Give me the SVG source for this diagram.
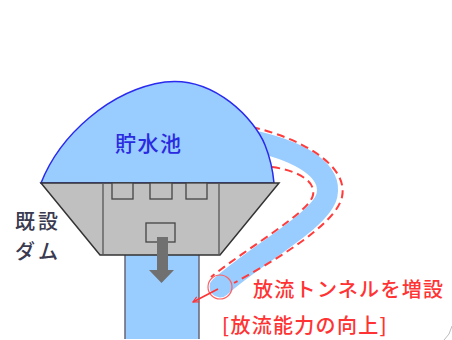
<svg xmlns="http://www.w3.org/2000/svg" width="452" height="340" viewBox="0 0 452 340">
  <defs>
    <style>
      .water { fill: #99ccff; }
      .dam { fill: #c0c0c0; stroke: #333; stroke-width: 1.5; stroke-linejoin: miter; }
      .part { fill: #c0c0c0; stroke: #444; stroke-width: 1.3; }
      .dash { fill: none; stroke: #ff3b3b; stroke-width: 2; stroke-dasharray: 8 5; }
      .jp { font-family: "Noto Sans CJK JP", "Noto Sans", sans-serif; font-weight: 500; }
      .red { fill: #ff3333; }
    </style>
    <marker id="redHead" viewBox="0 0 10 10" refX="9" refY="5" markerWidth="7" markerHeight="7" orient="auto" markerUnits="userSpaceOnUse">
      <path d="M1 1 L9 5 L1 9" fill="none" stroke="#ff3333" stroke-width="1.6"/>
    </marker>
  </defs>

  <rect width="452" height="340" fill="#ffffff"/>

  <!-- downstream channel -->
  <g id="channel">
    <rect class="water" x="125" y="255" width="74" height="84"/>
    <line x1="125" y1="255" x2="125" y2="339" stroke="#667" stroke-width="1.5"/>
    <line x1="199" y1="255" x2="199" y2="339" stroke="#667" stroke-width="1.5"/>
  </g>

  <!-- new discharge tunnel -->
  <g id="tunnel">
    <path d="M258 142 C300 152 332 170 327 195 C322 220 255 255 220 287" fill="none" stroke="#99ccff" stroke-width="21" stroke-linecap="round"/>
    <path class="dash" d="M252 127 C300 138 349 165 342 197 C336 225 272 262 234 283"/>
    <path class="dash" d="M272 167 C295 170 316 180 313 195 C310 212 250 246 211 277"/>
    <circle cx="220" cy="287" r="12" fill="none" stroke="#ff6060" stroke-width="1.2"/>
  </g>

  <!-- reservoir -->
  <g id="reservoir">
    <path d="M41 183 C60 135 110 90 165 82 C215 76 255 120 265 145 C271 160 273 172 274 183 Z" fill="#99ccff" stroke="#2a2aee" stroke-width="1.5"/>
    <text class="jp" x="115" y="150.5" font-size="21" letter-spacing="1.5" fill="#2a2ae0">貯水池</text>
  </g>

  <!-- existing dam body -->
  <g id="dam">
    <path class="dam" d="M41 183 L279 183 L220 255 L100 255 Z"/>
    <line x1="103" y1="183" x2="103" y2="255" stroke="#555" stroke-width="1.3"/>
    <line x1="219" y1="183" x2="219" y2="255" stroke="#555" stroke-width="1.3"/>
    <rect class="part" x="112" y="183" width="21" height="16"/>
    <rect class="part" x="150" y="183" width="22" height="16"/>
    <rect class="part" x="186" y="183" width="21" height="16"/>
    <rect class="part" x="146" y="223" width="29" height="19"/>
    <path d="M157 237 H168 V270 H174 L161.5 283 L149 270 H157 Z" fill="#707070"/>
  </g>

  <g id="dam-label">
    <text class="jp" x="15" y="229" font-size="20" letter-spacing="3" fill="#3a3a50">既設</text>
    <text class="jp" x="15" y="258.5" font-size="20" letter-spacing="3" fill="#3a3a50">ダム</text>
  </g>

  <!-- connectors -->
  <g id="connectors">
    <line x1="218" y1="289" x2="193" y2="302" stroke="#ff3333" stroke-width="1.6" marker-end="url(#redHead)"/>
  </g>

  <g id="tunnel-label">
    <text class="jp red" x="253" y="296.5" font-size="20" letter-spacing="1.3">放流トンネルを増設</text>
    <text class="jp red" x="222" y="333" font-size="20" letter-spacing="1.3">[放流能力の向上]</text>
  </g>

  <!-- frame corner -->
  <path d="M452 326 Q450 335 444 340" fill="none" stroke="#bbbbbb" stroke-width="1"/>
</svg>
